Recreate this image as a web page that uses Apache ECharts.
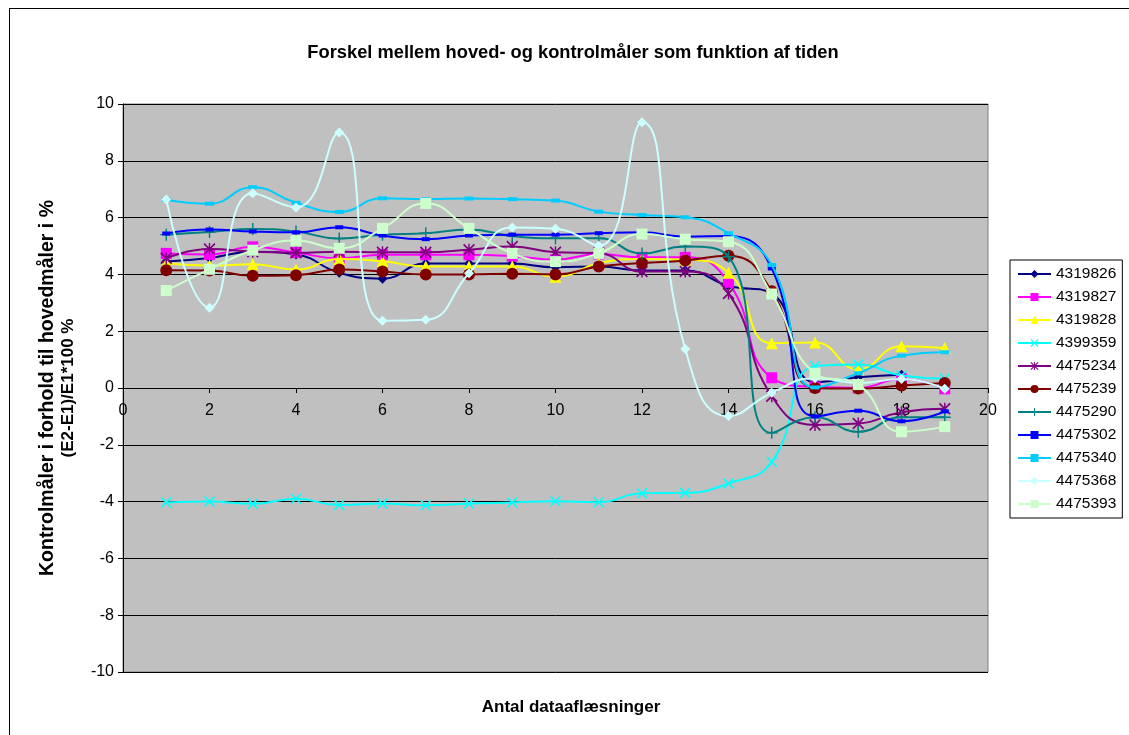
<!DOCTYPE html>
<html>
<head>
<meta charset="utf-8">
<script src="https://cdn.jsdelivr.net/npm/echarts@6/dist/echarts.min.js"></script>
<style>
  html, body { margin: 0; padding: 0; background: #fff; }
  #frame { position: absolute; left: 9px; top: 8px; width: 1130px; height: 740px; border: 1px solid #000; box-sizing: border-box; }
  #chart { position: absolute; left: 0; top: 0; width: 1129px; height: 735px; }
</style>
</head>
<body>
<div id="frame"></div>
<div id="chart"></div>
<script>
// Reading number (x axis)
const readings = [1, 2, 3, 4, 5, 6, 7, 8, 9, 10, 11, 12, 13, 14, 15, 16, 17, 18, 19];

// Meter numbers shown in the legend
const meterNames = ['4319826', '4319827', '4319828', '4399359', '4475234', '4475239',
                    '4475290', '4475302', '4475340', '4475368', '4475393'];

// Difference in percent, one array per meter
const m4319826 = [4.45, 4.58, 4.8, 4.7, 4.06, 3.85, 4.38, 4.38, 4.38, 4.25, 4.28, 4.14, 4.14, 3.6, 3.33, 0.2, 0.38, 0.47, null];
const m4319827 = [4.74, 4.7, 4.97, 4.77, 4.57, 4.69, 4.69, 4.69, 4.64, 4.52, 4.72, 4.6, 4.6, 3.72, 0.36, 0.04, 0.0, 0.32, -0.03];
const m4319828 = [4.39, 4.31, 4.36, 4.17, 4.54, 4.46, 4.28, 4.28, 4.28, 3.92, 4.39, 4.54, 4.52, 4.06, 1.58, 1.6, 0.66, 1.47, 1.41];
const m4399359 = [-4.03, -4.0, -4.08, -3.9, -4.12, -4.07, -4.13, -4.07, -4.03, -3.99, -4.02, -3.71, -3.69, -3.36, -2.6, 0.77, 0.83, 0.44, 0.33];
const m4475234 = [4.57, 4.89, 4.8, 4.76, 4.8, 4.78, 4.78, 4.87, 4.98, 4.78, 4.75, 4.1, 4.1, 3.33, -0.29, -1.3, -1.25, -0.85, -0.73];
const m4475239 = [4.15, 4.14, 3.95, 3.97, 4.17, 4.1, 4.0, 4.0, 4.02, 4.0, 4.28, 4.4, 4.49, 4.66, 3.41, 0.0, -0.02, 0.09, 0.18];
const m4475290 = [5.4, 5.49, 5.6, 5.51, 5.26, 5.4, 5.45, 5.58, 5.35, 5.27, 5.27, 4.74, 4.98, 4.62, -1.58, -1.03, -1.54, -1.03, -1.03];
const m4475302 = [5.44, 5.58, 5.51, 5.48, 5.66, 5.37, 5.24, 5.37, 5.4, 5.4, 5.45, 5.48, 5.33, 5.35, 4.21, -1.0, -0.8, -1.17, -0.82];
const m4475340 = [6.63, 6.49, 7.07, 6.52, 6.2, 6.68, 6.65, 6.67, 6.65, 6.6, 6.21, 6.09, 6.01, 5.45, 4.33, 0.02, 0.52, 1.14, 1.26];
const m4475368 = [6.64, 2.83, 6.86, 6.36, 9.0, 2.37, 2.4, 4.04, 5.65, 5.61, 5.01, 9.36, 1.37, -0.99, -0.17, 0.34, 0.18, 0.32, -0.03];
const m4475393 = [3.43, 4.18, 4.85, 5.19, 4.92, 5.62, 6.5, 5.62, 4.74, 4.45, 4.74, 5.42, 5.24, 5.15, 3.31, 0.52, 0.12, -1.54, -1.36];

const meterValues = [m4319826, m4319827, m4319828, m4399359, m4475234, m4475239,
                     m4475290, m4475302, m4475340, m4475368, m4475393];

const colors = ['#000080', '#FF00FF', '#FFFF00', '#00FFFF', '#800080', '#800000',
                '#008080', '#0000FF', '#00CCFF', '#CCFFFF', '#CCFFCC'];

// Marker shapes
const X_PATH = 'path://M0,1 L1,0 L5,4 L9,0 L10,1 L6,5 L10,9 L9,10 L5,6 L1,10 L0,9 L4,5 Z';
const STAR_PATH = 'path://M0,1 L1,0 L5,4 L9,0 L10,1 L6,5 L10,9 L9,10 L5,6 L1,10 L0,9 L4,5 Z M4.4,0 L5.6,0 L5.6,10 L4.4,10 Z';
const PLUS_PATH = 'path://M4.4,0 L5.6,0 L5.6,4.4 L10,4.4 L10,5.6 L5.6,5.6 L5.6,10 L4.4,10 L4.4,5.6 L0,5.6 L0,4.4 L4.4,4.4 Z';

const symbols = ['diamond', 'rect', 'triangle', X_PATH, STAR_PATH, 'circle',
                 PLUS_PATH, 'rect', 'rect', 'diamond', 'rect'];
const symbolSizes = [10, 11, 12, 11, 12, 12, 12, [8, 4], [9, 4], 10, 11];

const FONT = 'Liberation Sans, Arial, sans-serif';

// Plot area box
const GRID = { left: 123, top: 104, right: 141, bottom: 63 };
const CHART_H = 735;
// y = 0 lies halfway up the plot (range -10..10): lift the x axis there
const xAxisLift = -(CHART_H - GRID.top - GRID.bottom) / 2;

const series = meterNames.map((name, i) => ({
  name: name,
  type: 'line',
  smooth: 0.5,
  data: readings.map((x, j) => [x, meterValues[i][j]]).filter(p => p[1] !== null),
  symbol: symbols[i],
  symbolSize: symbolSizes[i],
  symbolKeepAspect: true,
  lineStyle: { color: colors[i], width: 2 },
  itemStyle: { color: colors[i] },
  emphasis: { disabled: true },
  animation: false,
  z: 2 + i
}));

const chart = echarts.init(document.getElementById('chart'), null, { renderer: 'canvas' });
chart.setOption({
  backgroundColor: 'transparent',
  animation: false,
  title: [
    {
      text: 'Forskel mellem hoved- og kontrolmåler som funktion af tiden',
      left: 568, top: 39, textAlign: 'center',
      textStyle: { fontFamily: FONT, fontSize: 18.3, fontWeight: 'bold', color: '#000' }
    },
    {
      text: 'Antal dataaflæsninger',
      left: 566, top: 694, textAlign: 'center',
      textStyle: { fontFamily: FONT, fontSize: 17, fontWeight: 'bold', color: '#000' }
    }
  ],
  grid: Object.assign({ show: true, backgroundColor: '#C0C0C0', borderColor: '#808080', borderWidth: 1 }, GRID),
  legend: {
    orient: 'vertical',
    left: 1010, top: 260,
    padding: [6, 6, 6, 7],
    backgroundColor: '#fff',
    borderColor: '#000', borderWidth: 1,
    itemWidth: 33, itemHeight: 10, itemGap: 7, itemTextGap: 6,
    textStyle: { fontFamily: FONT, fontSize: 15.5, color: '#000' },
    data: meterNames
  },
  xAxis: {
    type: 'value', min: 0, max: 20, interval: 2,
    position: 'bottom', offset: xAxisLift,
    axisLine: { onZero: false, lineStyle: { color: '#000', width: 1 } },
    axisTick: { show: true, length: 5, lineStyle: { color: '#000' } },
    axisLabel: { fontFamily: FONT, fontSize: 16, color: '#000', margin: 15 },
    splitLine: { show: false }
  },
  yAxis: {
    type: 'value', min: -10, max: 10, interval: 2,
    name: '{a|Kontrolmåler i forhold til hovedmåler i %}\n{b|(E2-E1)/E1*100 %}',
    nameLocation: 'middle', nameRotate: 90, nameGap: 44,
    nameTextStyle: {
      fontFamily: FONT, fontWeight: 'bold', color: '#000',
      rich: {
        a: { fontFamily: FONT, fontSize: 19.5, fontWeight: 'bold', color: '#000', lineHeight: 21 },
        b: { fontFamily: FONT, fontSize: 17, fontWeight: 'bold', color: '#000', lineHeight: 21 }
      }
    },
    axisLine: { show: true, onZero: false, lineStyle: { color: '#000', width: 1 } },
    axisTick: { show: true, length: 5, lineStyle: { color: '#000' } },
    axisLabel: { fontFamily: FONT, fontSize: 16, color: '#000', margin: 9 },
    splitLine: { show: true, lineStyle: { color: '#000', width: 1 } }
  },
  series: series
});
</script>
</body>
</html>
